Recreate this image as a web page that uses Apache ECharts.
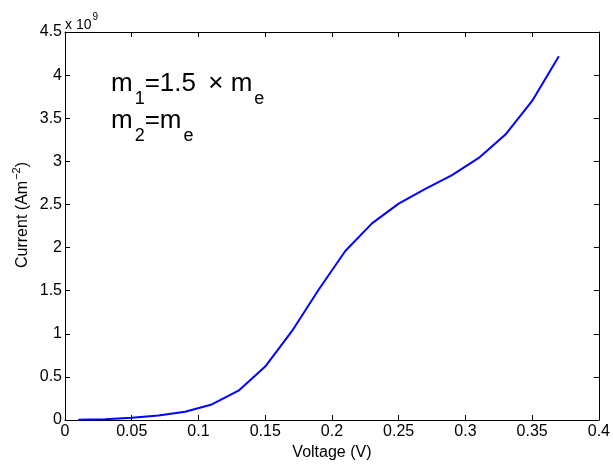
<!DOCTYPE html>
<html><head><meta charset="utf-8">
<script src="https://cdn.jsdelivr.net/npm/echarts@6/dist/echarts.min.js"></script>
<style>html,body{margin:0;padding:0;background:#fff}#c{width:613px;height:467px}</style>
</head><body><div id="c"></div>
<script>
var voltage = [0.01,0.03,0.05,0.07,0.09,0.11,0.13,0.15,0.17,0.19,0.21,0.23,0.25,0.27,0.29,0.31,0.33,0.35,0.37];
var current = [0.003,0.01,0.025,0.052,0.095,0.18,0.34,0.62,1.03,1.51,1.96,2.28,2.51,2.68,2.84,3.04,3.31,3.70,4.22];
var xTicks = [0,0.05,0.1,0.15,0.2,0.25,0.3,0.35,0.4];
var yTicks = [0,0.5,1,1.5,2,2.5,3,3.5,4,4.5];
var F = 'Liberation Sans, Arial, Helvetica, sans-serif';
var chart = echarts.init(document.getElementById('c'));
var axisCommon = {
  axisLine:{show:true,onZero:false,lineStyle:{color:'#000',width:1}},
  axisTick:{show:true,inside:true,length:5,lineStyle:{color:'#000'}},
  splitLine:{show:false}
};
chart.setOption({
  animation:false,
  grid:{left:65,right:13,top:32,bottom:47,containLabel:false},
  xAxis:[
    Object.assign({type:'value',min:0,max:0.4,interval:0.05,position:'bottom',
      axisLabel:{color:'#000',fontFamily:F,fontSize:16,margin:4,formatter:function(v){return xTicks.indexOf(+v.toFixed(2))>=0?String(+v.toFixed(2)):'';}},
      name:'Voltage (V)',nameLocation:'middle',nameGap:24,nameTextStyle:{color:'#000',fontFamily:F,fontSize:16}},axisCommon),
    Object.assign({type:'value',min:0,max:0.4,interval:0.05,position:'top',axisLabel:{show:false}},axisCommon)
  ],
  yAxis:[
    Object.assign({type:'value',min:0,max:4.5,interval:0.5,position:'left',
      axisLabel:{color:'#000',fontFamily:F,fontSize:16,margin:3,formatter:function(v){return yTicks.indexOf(+v.toFixed(1))>=0?String(+v.toFixed(1)):'';}}},axisCommon),
    Object.assign({type:'value',min:0,max:4.5,interval:0.5,position:'right',axisLabel:{show:false}},axisCommon)
  ],
  series:[{type:'line',data:voltage.map(function(v,i){return [v,current[i]];}),showSymbol:false,
    lineStyle:{color:'#0000ff',width:2},xAxisIndex:0,yAxisIndex:0}],
  graphic:[
    {type:'text',left:65,top:12,style:{text:'{a|x 10}{s|9}',rich:{
      a:{fontFamily:F,fontSize:14,fill:'#000',lineHeight:15,verticalAlign:'bottom'},
      s:{fontFamily:F,fontSize:10,fill:'#000',verticalAlign:'top',padding:[0,0,10,1]}}}},
    {type:'text',x:21,y:215,rotation:Math.PI/2,style:{text:'{a|Current (Am}{s|\u22122}{a|)}',align:'center',verticalAlign:'middle',rich:{
      a:{fontFamily:F,fontSize:16,fill:'#000',lineHeight:17,verticalAlign:'bottom'},
      s:{fontFamily:F,fontSize:11,fill:'#000',verticalAlign:'top',padding:[0,0,8,1]}}}},
    {type:'text',left:111,top:71,style:{text:'{a|m}{b|1}{a|=1.5 }{x|\u00d7 m}{b|e}\n{a|m}{b|2}{a|=m}{b|e}',
      rich:{a:{fontFamily:F,fontSize:26,fill:'#000',lineHeight:24,verticalAlign:'top'},
        x:{fontFamily:F,fontSize:26,fill:'#000',lineHeight:24,verticalAlign:'top',padding:[0,0,0,5]},
        b:{fontFamily:F,fontSize:18,fill:'#000',verticalAlign:'bottom',padding:[19,0,0,2]}}}}
  ]
});
</script></body></html>
